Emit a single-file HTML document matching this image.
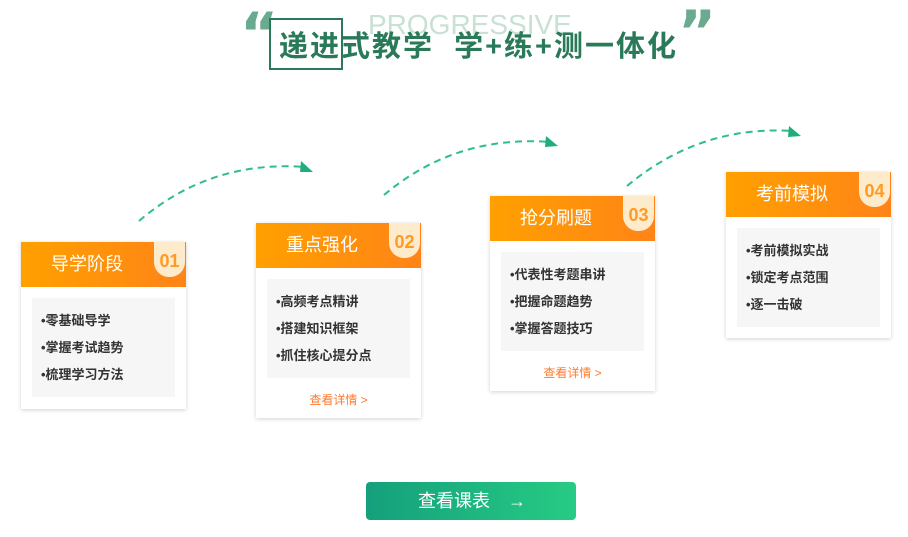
<!DOCTYPE html>
<html><head><meta charset="utf-8"><style>
*{margin:0;padding:0;box-sizing:border-box}
body{width:908px;height:537px;background:#fff;position:relative;overflow:hidden;font-family:"Liberation Sans","Noto Sans CJK SC",sans-serif}
.abs{position:absolute}
.card{position:absolute;width:165px;background:#fff;box-shadow:0 1px 4px rgba(0,0,0,0.18)}
.hd{height:45px;background:linear-gradient(90deg,#ffa000,#ff8418);color:#fff;font-size:18px;line-height:45px;padding-left:30px;position:relative}
.bd{position:absolute;right:1px;top:0;width:31px;height:35px;background:#fdebcc;border-radius:0 0 15px 15px;color:#ff9a26;font-weight:bold;font-size:18px;text-align:center;line-height:38px}
.gray{margin:11px 11px 0 11px;background:#f6f6f6;height:99px;padding:9px 0 0 9px}
.gray div{font-size:13px;font-weight:bold;color:#333;line-height:27px}
.lk{text-align:center;color:#ff7a2e;font-size:12px;margin-top:13px}
.q{position:absolute;font-size:58px;font-weight:bold;color:#6aaa8f;font-family:"DejaVu Sans",sans-serif;line-height:60px}
</style></head><body>
<div class="q" style="left:240px;top:4px">“</div>
<div class="q" style="left:678px;top:2px">”</div>
<div class="abs" style="left:269px;top:18px;width:74px;height:52px;border:2px solid #2a7a5a"></div>
<div class="abs" style="left:368px;top:10px;font-size:28px;color:#c9e0d5;line-height:30px">PROGRESSIVE</div>
<div class="abs" style="left:279px;top:28px;font-size:29px;font-weight:bold;color:#2a7a5a;line-height:38px;white-space:nowrap;letter-spacing:2px">递进式教学&nbsp;&nbsp;学+练+测一体化</div>

<svg class="abs" style="left:0;top:0" width="908" height="537">
<g fill="none" stroke="#2fbf86" stroke-width="2" stroke-dasharray="7,5">
<path d="M139 221 Q210 160 305 167"/>
<path d="M384 195 Q455 135 550 142"/>
<path d="M627 186 Q700 125 793 131"/>
</g>
<g fill="#1fae7a">
<polygon points="301,161 313,172 300,172"/>
<polygon points="546,136 558,146 545,147"/>
<polygon points="789,126 801,136 788,137"/>
</g>
</svg>

<div class="card" style="left:21px;top:242px;height:167px"><div class="hd">导学阶段<div class="bd">01</div></div>
<div class="gray"><div>•零基础导学</div><div>•掌握考试趋势</div><div>•梳理学习方法</div></div></div>

<div class="card" style="left:256px;top:223px;height:195px"><div class="hd">重点强化<div class="bd">02</div></div>
<div class="gray"><div>•高频考点精讲</div><div>•搭建知识框架</div><div>•抓住核心提分点</div></div><div class="lk">查看详情 &gt;</div></div>

<div class="card" style="left:490px;top:196px;height:195px"><div class="hd">抢分刷题<div class="bd">03</div></div>
<div class="gray"><div>•代表性考题串讲</div><div>•把握命题趋势</div><div>•掌握答题技巧</div></div><div class="lk">查看详情 &gt;</div></div>

<div class="card" style="left:726px;top:172px;height:166px"><div class="hd">考前模拟<div class="bd">04</div></div>
<div class="gray"><div>•考前模拟实战</div><div>•锁定考点范围</div><div>•逐一击破</div></div></div>

<div class="abs" style="left:366px;top:482px;width:210px;height:38px;border-radius:4px;background:linear-gradient(90deg,#14a07c,#27cb84);color:#fff;font-size:18px;line-height:38px;padding-left:52px">查看课表<span style="margin-left:18px;font-size:18px">→</span></div>
</body></html>
